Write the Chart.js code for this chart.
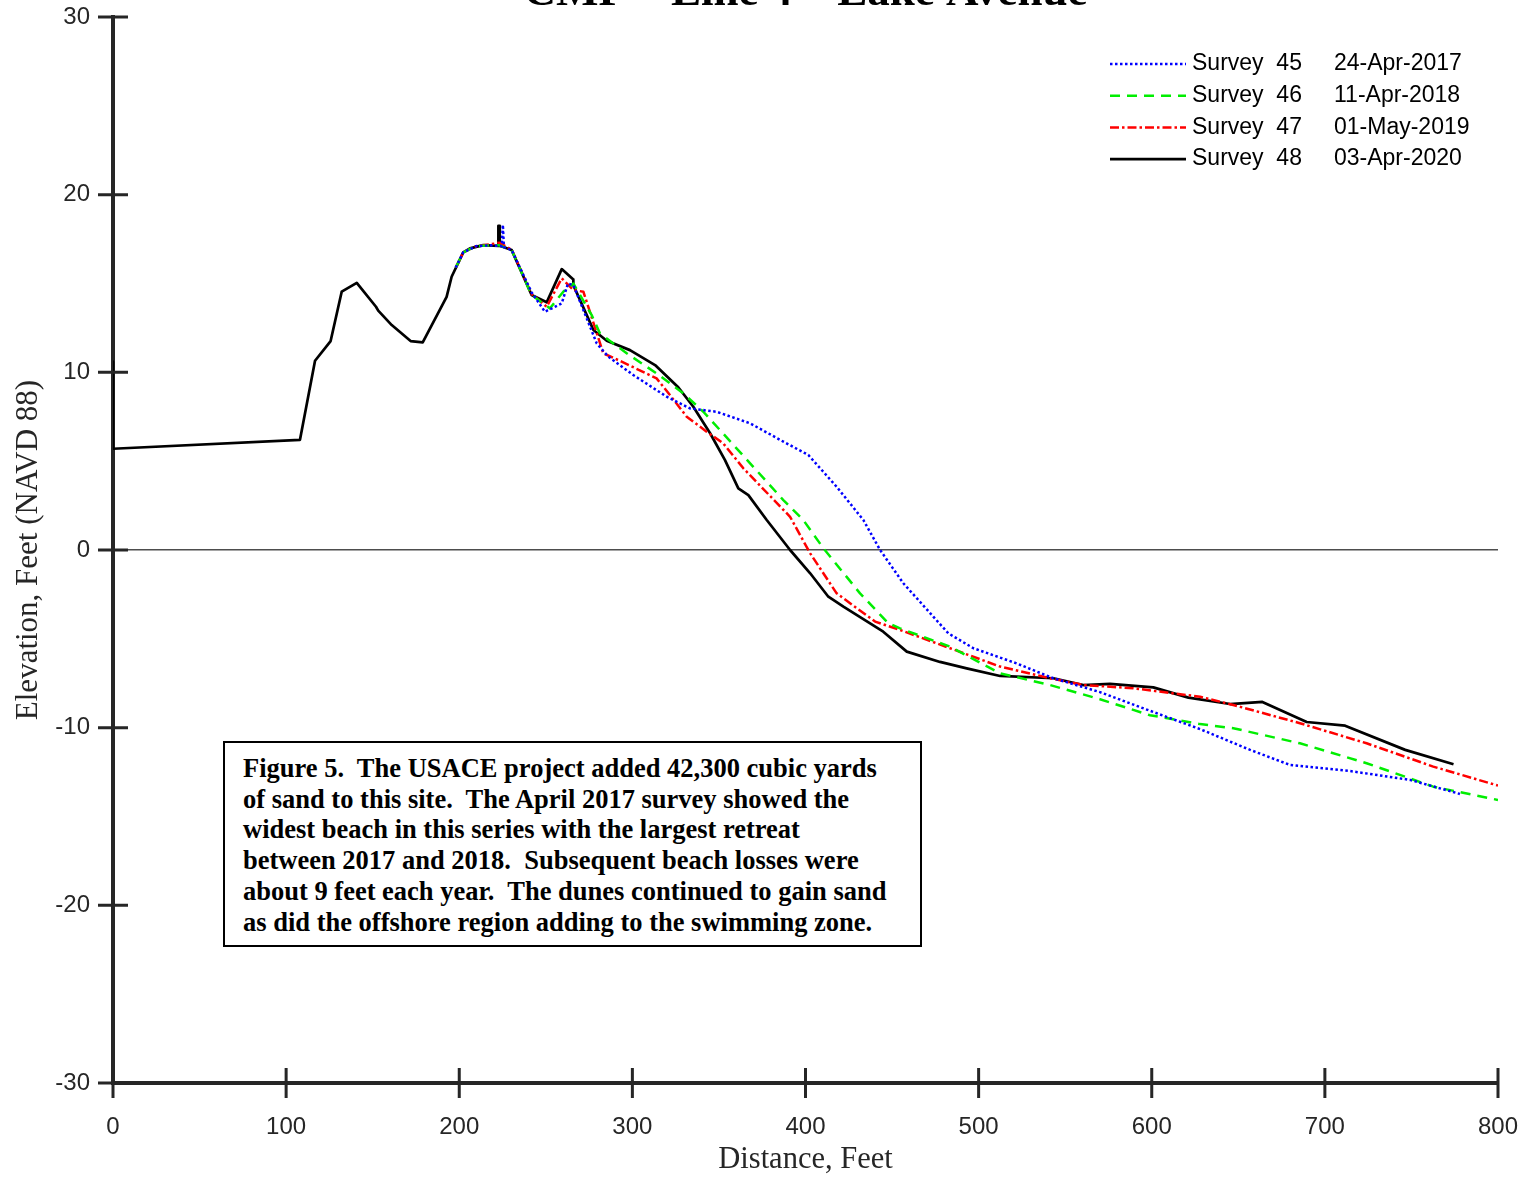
<!DOCTYPE html>
<html>
<head>
<meta charset="utf-8">
<script src="https://cdn.jsdelivr.net/npm/chart.js@4.4.1/dist/chart.umd.min.js"></script>
<style>
  html, body { margin: 0; padding: 0; background: #fff; }
  #wrap { position: relative; width: 1533px; height: 1178px; overflow: hidden; }
  #profile { position: absolute; left: 0; top: -29px; }
  #note {
    position: absolute; left: 223px; top: 741px; width: 695px; height: 202px;
    border: 2px solid #000; box-sizing: content-box; background: #fff;
    font-family: "Liberation Serif", "Times New Roman", serif; font-weight: bold;
    font-size: 26.5px; line-height: 30.7px; color: #000;
  }
  #note div { position: absolute; left: 18px; top: 10px; white-space: nowrap; }
</style>
</head>
<body>
<div id="wrap">
  <canvas id="profile" width="1533" height="1207"></canvas>
  <div id="note"><div>Figure 5.&nbsp; The USACE project added 42,300 cubic yards<br>of sand to this site.&nbsp; The April 2017 survey showed the<br>widest beach in this series with the largest retreat<br>between 2017 and 2018.&nbsp; Subsequent beach losses were<br>about 9 feet each year.&nbsp; The dunes continued to gain sand<br>as did the offshore region adding to the swimming zone.</div></div>
</div>
<script>
// Beach profile surveys, CMP Line 4 (Lake Avenue): distance (ft) and elevation (ft, NAVD 88)
const surveyNames = ['Survey  45', 'Survey  46', 'Survey  47', 'Survey  48'];
const surveyDates = ['24-Apr-2017', '11-Apr-2018', '01-May-2019', '03-Apr-2020'];

const s45Dist = [198, 202.3, 209.7, 217.8, 224.6, 225.2, 225.8, 230.3, 241.8, 249.5, 259.2, 262.8, 266, 279.4, 286.1, 300.5, 319.8, 333.3, 348.7, 368, 387.2, 401.6, 418, 433.4, 443.1, 456.5, 473.8, 482.5, 497.0, 521.9, 543.2, 570.1, 599, 627.9, 656.8, 679.9, 714.5, 749.2, 778];
const s45Elev = [15.9, 16.75, 17.1, 17.15, 17.1, 18.3, 17.05, 16.88, 14.5, 13.41, 13.88, 15.0, 14.9, 11.63, 10.88, 9.85, 8.63, 7.97, 7.78, 7.13, 6.1, 5.35, 3.56, 1.69, 0, -1.87, -3.75, -4.69, -5.53, -6.38, -7.22, -8.0, -9.05, -10.08, -11.25, -12.1, -12.44, -12.94, -13.73];

const s46Dist = [198, 202.3, 209.7, 217.8, 223.2, 230.3, 241.8, 252.4, 260.1, 265.9, 276.5, 281.3, 296.7, 314, 329.4, 341, 350.6, 368, 387.2, 398.7, 410.3, 431.5, 447.8, 454.6, 483.5, 512.4, 541.3, 570.1, 599, 627.9, 647.1, 685.6, 724.1, 762.6, 800];
const s46Elev = [15.9, 16.75, 17.1, 17.15, 17.15, 16.88, 14.35, 13.6, 14.54, 15.0, 13.22, 12.19, 11.07, 9.94, 8.82, 7.78, 6.75, 4.88, 2.81, 1.69, 0.1, -2.44, -4.12, -4.41, -5.44, -6.94, -7.6, -8.4, -9.3, -9.8, -10.03, -10.88, -12.0, -13.32, -14.07];

const s47Dist = [198, 202.3, 209.7, 217.8, 223.2, 230.3, 241.8, 250.5, 259.2, 265.9, 271.7, 283.2, 293.8, 314.0, 321.7, 331.4, 342.9, 352.5, 364.1, 391.1, 402.7, 418.0, 440.2, 454.6, 483.5, 512.4, 541.3, 560.5, 589.3, 627.9, 647.1, 685.6, 724.1, 762.6, 800];
const s47Elev = [15.9, 16.75, 17.1, 17.2, 17.3, 16.9, 14.4, 13.69, 15.29, 14.63, 14.54, 11.07, 10.6, 9.66, 8.72, 7.5, 6.66, 6.0, 4.6, 1.87, -0.19, -2.44, -4.03, -4.5, -5.53, -6.56, -7.22, -7.6, -7.78, -8.26, -8.72, -9.75, -10.88, -12.19, -13.26];

const s48Dist = [0, 0, 108, 116.7, 125.7, 132.1, 140.8, 151.9, 153.2, 161, 171.9, 178.9, 192.7, 195.6, 202.3, 206.2, 213.9, 222.6, 222.6, 223.4, 223.4, 230.3, 241.8, 250.5, 259.2, 265.9, 265.9, 277.5, 285.2, 298.6, 313.1, 326.5, 335.2, 344.9, 353.5, 361.2, 367.0, 377.6, 391.1, 402.7, 413.2, 421.9, 444.9, 458.5, 477.7, 493.1, 512.4, 543.2, 560.5, 575.9, 600.9, 621.2, 645.2, 663.9, 689.5, 711.7, 746.4, 774.3];
const s48Elev = [10.6, 5.7, 6.2, 10.65, 11.76, 14.54, 15.04, 13.69, 13.47, 12.66, 11.76, 11.69, 14.25, 15.38, 16.75, 16.98, 17.16, 17.12, 18.25, 18.25, 17.12, 16.88, 14.35, 13.94, 15.81, 15.23, 14.91, 12.38, 11.78, 11.25, 10.41, 9.16, 8.06, 6.57, 5.06, 3.47, 3.09, 1.69, 0, -1.31, -2.63, -3.19, -4.6, -5.72, -6.3, -6.66, -7.09, -7.22, -7.6, -7.54, -7.73, -8.31, -8.67, -8.55, -9.68, -9.89, -11.25, -12.06];

const distTicks = [0, 100, 200, 300, 400, 500, 600, 700, 800];
const elevTicks = [-30, -20, -10, 0, 10, 20, 30];

const pairs = (xs, ys) => xs.map((x, i) => ({ x: x, y: ys[i] }));

const AXIS = '#262626';
const SANS = '"Liberation Sans", Arial, sans-serif';
const SERIF = '"Liberation Serif", "Times New Roman", serif';

// tick marks that cross the axis line on both sides
const crossTicks = {
  id: 'crossTicks',
  afterDraw(chart) {
    const { ctx, scales: { x, y } } = chart;
    ctx.save();
    ctx.strokeStyle = AXIS;
    ctx.lineWidth = 3;
    ctx.beginPath();
    distTicks.forEach(v => {
      const px = x.getPixelForValue(v);
      ctx.moveTo(px, y.bottom - 15); ctx.lineTo(px, y.bottom + 15);
    });
    elevTicks.forEach(v => {
      const py = y.getPixelForValue(v);
      ctx.moveTo(x.left - 15, py); ctx.lineTo(x.left + 15, py);
    });
    ctx.stroke();
    ctx.restore();
  }
};

// legend with line samples, survey number and survey date
const surveyLegend = {
  id: 'surveyLegend',
  afterDraw(chart) {
    const ctx = chart.ctx;
    const top = chart.chartArea.top;
    ctx.save();
    ctx.font = '23px ' + SANS;
    ctx.textBaseline = 'middle';
    ctx.fillStyle = '#000';
    chart.data.datasets.forEach((ds, i) => {
      const yy = top + 47 + i * 31.7;
      ctx.save();
      ctx.strokeStyle = ds.borderColor;
      ctx.lineWidth = ds.borderWidth;
      ctx.setLineDash(ds.borderDash || []);
      ctx.beginPath();
      ctx.moveTo(1110, yy); ctx.lineTo(1186, yy);
      ctx.stroke();
      ctx.restore();
      ctx.textAlign = 'left';
      ctx.fillText(surveyNames[i], 1192, yy);
      ctx.fillText(surveyDates[i], 1334, yy);
    });
    ctx.restore();
  }
};

new Chart(document.getElementById('profile'), {
  type: 'line',
  data: {
    datasets: [
      { label: surveyNames[0] + ' ' + surveyDates[0], data: pairs(s45Dist, s45Elev), borderColor: '#0000ff', borderWidth: 2.5, borderDash: [2.5, 2.5] },
      { label: surveyNames[1] + ' ' + surveyDates[1], data: pairs(s46Dist, s46Elev), borderColor: '#00ee00', borderWidth: 2.5, borderDash: [10, 7] },
      { label: surveyNames[2] + ' ' + surveyDates[2], data: pairs(s47Dist, s47Elev), borderColor: '#ff0000', borderWidth: 2.5, borderDash: [9, 3, 2.5, 3] },
      { label: surveyNames[3] + ' ' + surveyDates[3], data: pairs(s48Dist, s48Elev), borderColor: '#000000', borderWidth: 2.7 }
    ]
  },
  options: {
    responsive: false,
    animation: false,
    devicePixelRatio: 1,
    elements: { point: { radius: 0 }, line: { tension: 0, borderCapStyle: 'butt', borderJoinStyle: 'round' } },
    layout: { padding: { left: 0, top: 0, right: 35, bottom: 0 } },
    plugins: {
      legend: { display: false },
      tooltip: { enabled: false },
      title: {
        display: true,
        fullSize: false,
        text: 'CMP – Line 4 – Lake Avenue',
        color: '#000',
        font: { family: SERIF, size: 45, weight: 'bold', lineHeight: 1 },
        padding: { top: 0, bottom: 1 }
      }
    },
    scales: {
      x: {
        type: 'linear', min: 0, max: 800,
        afterFit(s) { s.height = 95; s.paddingLeft = 0; s.paddingRight = 0; },
        afterBuildTicks(s) { s.ticks = distTicks.map(v => ({ value: v })); },
        grid: { display: false, drawTicks: false },
        border: { display: true, color: AXIS, width: 4 },
        ticks: { color: AXIS, font: { family: SANS, size: 24 }, padding: 30, maxRotation: 0 },
        title: { display: true, text: 'Distance, Feet', color: AXIS, font: { family: SERIF, size: 30.5 }, padding: { top: 0, bottom: 0 } }
      },
      y: {
        type: 'linear', min: -30, max: 30,
        afterFit(s) { s.width = 113; },
        afterBuildTicks(s) { s.ticks = elevTicks.map(v => ({ value: v })); },
        grid: {
          drawTicks: false,
          color: c => (c.tick && c.tick.value === 0) ? '#4d4d4d' : 'rgba(0,0,0,0)',
          lineWidth: 1.5
        },
        border: { display: true, color: AXIS, width: 4 },
        ticks: { color: AXIS, font: { family: SANS, size: 24 }, padding: 23 },
        title: { display: true, text: 'Elevation, Feet (NAVD 88)', color: AXIS, font: { family: SERIF, size: 31 }, padding: { top: 10, bottom: 0 } }
      }
    }
  },
  plugins: [crossTicks, surveyLegend]
});
</script>
</body>
</html>
